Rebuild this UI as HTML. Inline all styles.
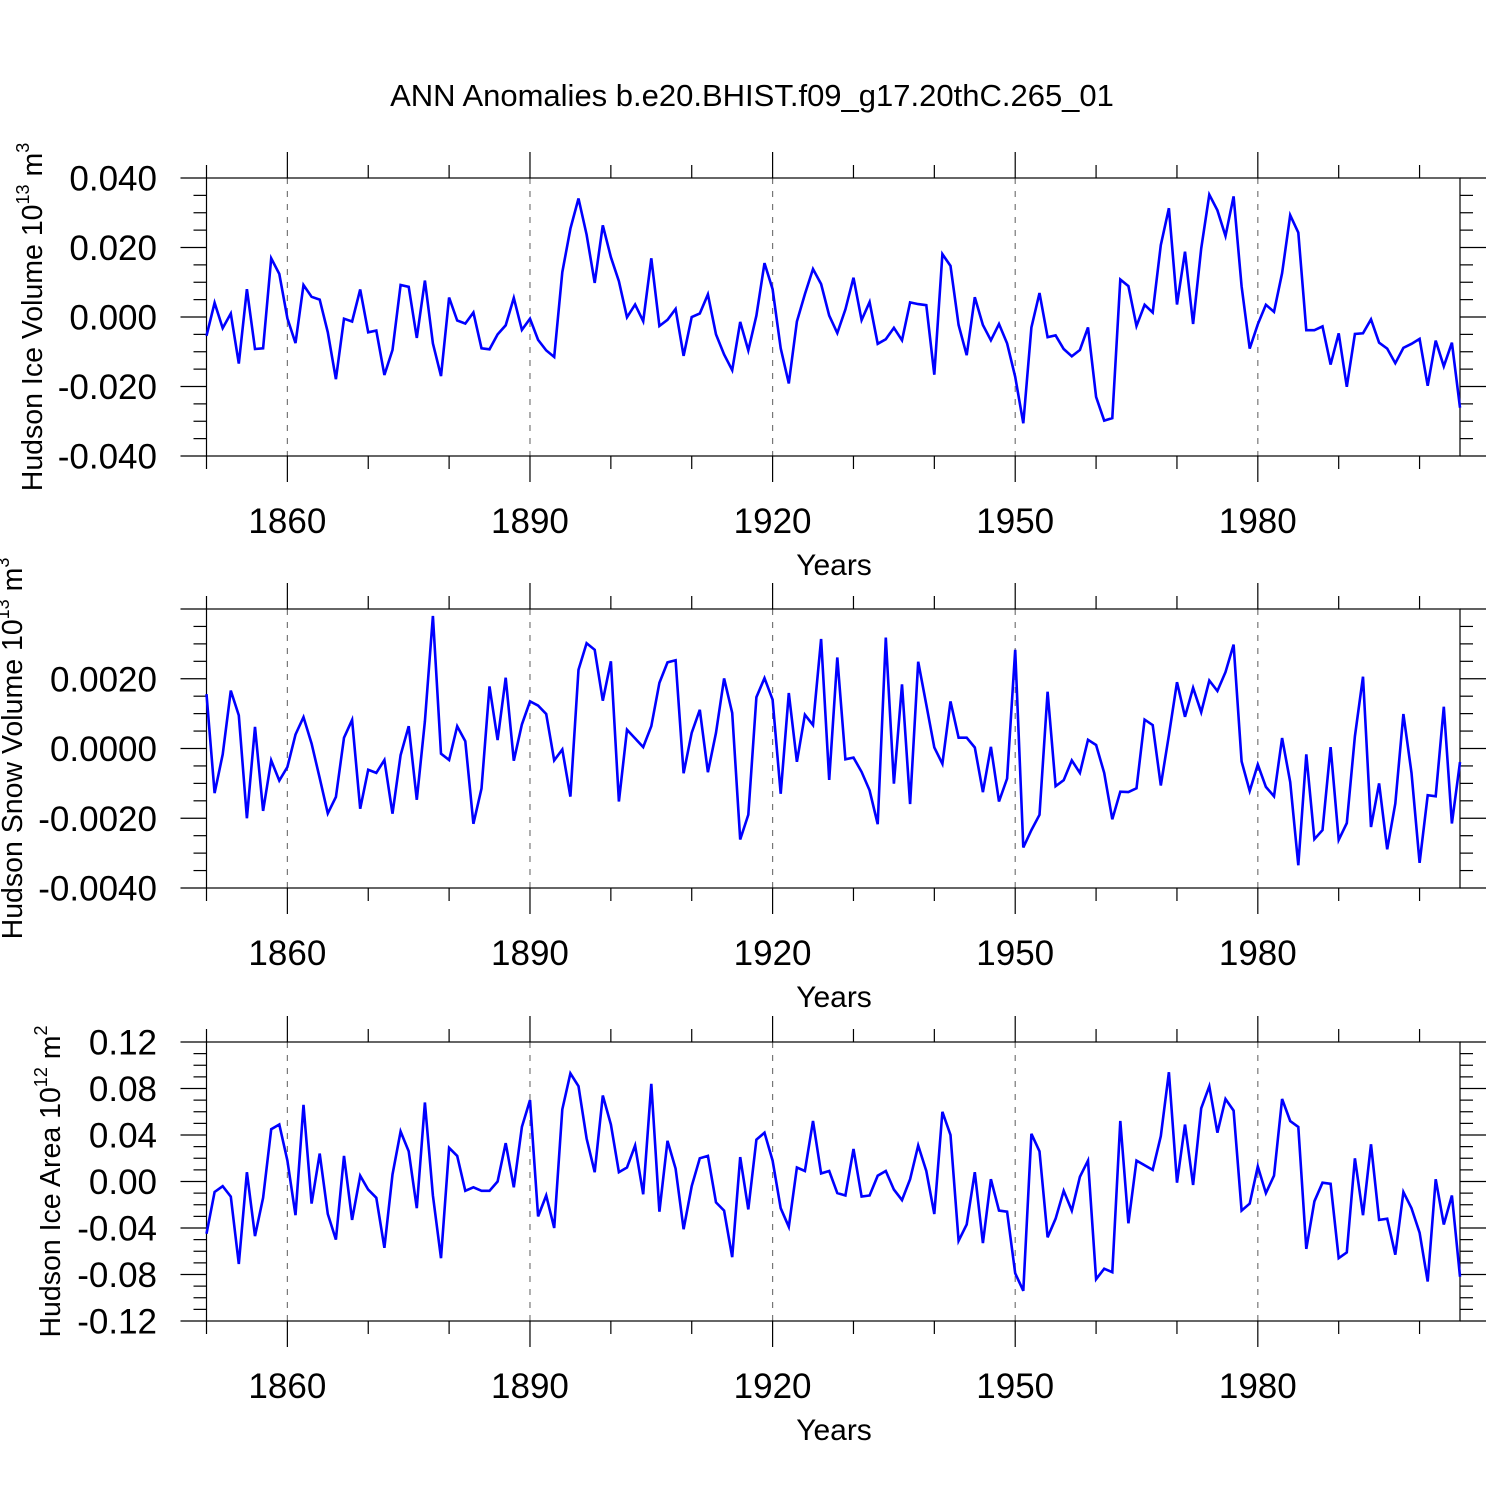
<!DOCTYPE html>
<html><head><meta charset="utf-8"><style>
html,body{margin:0;padding:0;background:#fff;}
svg{display:block;font-family:"Liberation Sans",sans-serif;}
</style></head><body>
<svg id="chart" width="1500" height="1500" viewBox="0 0 1500 1500" xmlns="http://www.w3.org/2000/svg">
<rect width="1500" height="1500" fill="#fff"/>
<text x="752" y="106" font-size="31" text-anchor="middle">ANN Anomalies b.e20.BHIST.f09_g17.20thC.265_01</text>
</svg>
<script>
const years = [];
for (let y = 1850; y <= 2005; y++) years.push(y);
const xTickYears = [1860, 1890, 1920, 1950, 1980];

const iceVolume = [-0.0054,0.0041,-0.0032,0.001,-0.0134,0.008,-0.0092,-0.009,0.0169,0.0124,-0.0004,-0.0075,0.0092,0.0058,0.005,-0.0044,-0.0179,-0.0005,-0.0013,0.0079,-0.0044,-0.0039,-0.0167,-0.0095,0.0092,0.0087,-0.006,0.0105,-0.0076,-0.017,0.0056,-0.001,-0.0019,0.0013,-0.009,-0.0093,-0.005,-0.0024,0.0055,-0.0037,-0.0005,-0.0066,-0.0096,-0.0115,0.0129,0.0254,0.0341,0.0237,0.0098,0.0264,0.0172,0.0103,-0.0001,0.0036,-0.0012,0.0169,-0.0026,-0.0008,0.0023,-0.0112,0,0.001,0.0065,-0.005,-0.0108,-0.0153,-0.0014,-0.0096,0.0004,0.0155,0.008,-0.009,-0.0191,-0.0013,0.0066,0.0138,0.0095,0.0004,-0.0046,0.0022,0.0113,-0.0009,0.0043,-0.0077,-0.0064,-0.0031,-0.0067,0.0042,0.0037,0.0034,-0.0166,0.0181,0.0147,-0.0023,-0.011,0.0057,-0.0023,-0.0067,-0.002,-0.0076,-0.0172,-0.0306,-0.003,0.0069,-0.0058,-0.0053,-0.0092,-0.0113,-0.0095,-0.003,-0.023,-0.0298,-0.0291,0.0108,0.0089,-0.0026,0.0035,0.0013,0.0207,0.0313,0.0036,0.0188,-0.002,0.0197,0.0352,0.0307,0.0233,0.0347,0.0088,-0.0091,-0.0021,0.0035,0.0015,0.0126,0.0293,0.0243,-0.0038,-0.0038,-0.0027,-0.0137,-0.0047,-0.0201,-0.0049,-0.0047,-0.0007,-0.0074,-0.0091,-0.0133,-0.0089,-0.0077,-0.0063,-0.0198,-0.0068,-0.0142,-0.0074,-0.0261];

const snowVolume1e4 = [15.6,-12.8,-1.7,16.6,9.5,-20,6.2,-17.9,-3.4,-9.2,-5.3,4,9,1.4,-8.5,-18.6,-13.9,3.1,8.2,-17.3,-6.1,-7,-3.3,-18.7,-1.9,6.4,-14.7,7.8,38,-1.5,-3.3,6.4,2.1,-21.6,-11.5,17.8,2.4,20.3,-3.5,6.9,13.5,12.3,9.9,-3.4,-0.3,-13.8,22.6,30.2,28.3,13.7,25,-15.2,5.4,2.9,0.4,6.4,18.8,24.7,25.3,-7.1,4.5,11.1,-6.8,4.5,20.1,10.2,-26.1,-19,14.7,20.2,14,-13,15.9,-3.8,9.7,6.7,31.4,-9,26.1,-3.1,-2.6,-6.7,-12,-21.7,31.8,-10.1,18.4,-15.9,24.9,12.6,0.3,-4.4,13.5,3.1,3.1,0.3,-12.5,0.5,-15.2,-8.6,28.3,-28.4,-23.4,-19,16.3,-10.8,-9.1,-3.4,-7,2.5,1,-7,-20.3,-12.4,-12.5,-11.4,8.3,6.7,-10.6,3.8,19,9.1,17.4,10.4,19.5,16.5,21.9,29.8,-3.7,-12.2,-4.6,-11,-13.7,3,-9.6,-33.5,-1.7,-26,-23.4,0.4,-26.2,-21.4,3.5,20.6,-22.5,-10,-28.9,-15.8,9.9,-7,-32.8,-13.4,-13.7,12,-21.5,-3.9];

const iceArea1e2 = [-4.5,-0.9,-0.4,-1.3,-7.1,0.8,-4.7,-1.4,4.5,4.9,1.8,-2.9,6.6,-1.9,2.4,-2.8,-5,2.2,-3.3,0.5,-0.7,-1.4,-5.7,0.6,4.3,2.6,-2.3,6.8,-1.2,-6.6,2.9,2.2,-0.8,-0.5,-0.8,-0.8,0,3.3,-0.5,4.7,7,-3,-1.2,-4,6.2,9.3,8.2,3.7,0.8,7.4,4.9,0.8,1.2,3.1,-1.1,8.4,-2.6,3.5,1.1,-4.1,-0.4,2,2.2,-1.8,-2.5,-6.5,2.1,-2.4,3.6,4.2,1.8,-2.3,-3.9,1.2,0.9,5.2,0.7,0.9,-1,-1.2,2.8,-1.3,-1.2,0.5,0.9,-0.7,-1.6,0.2,3.1,0.9,-2.8,6,4,-5.1,-3.7,0.8,-5.3,0.2,-2.5,-2.6,-7.9,-9.4,4.1,2.6,-4.8,-3.2,-0.8,-2.5,0.4,1.8,-8.4,-7.5,-7.8,5.2,-3.6,1.8,1.4,1,3.9,9.4,-0.1,4.9,-0.3,6.3,8.2,4.2,7.1,6.1,-2.5,-1.9,1.3,-1,0.5,7.1,5.2,4.7,-5.8,-1.7,-0.1,-0.2,-6.6,-6.1,2,-2.9,3.2,-3.3,-3.2,-6.3,-0.9,-2.3,-4.4,-8.6,0.2,-3.7,-1.2,-8.2];

const ticks1 = ["0.040","0.020","0.000","-0.020","-0.040"];
const ticks2 = ["0.0020","0.0000","-0.0020","-0.0040"];
const ticks3 = ["0.12","0.08","0.04","0.00","-0.04","-0.08","-0.12"];

const NS = "http://www.w3.org/2000/svg";
const svg = document.getElementById("chart");
const X0 = 206.5, X1 = 1460, YMIN = 1850, YMAX = 2005;
const xs = yr => X0 + (yr - YMIN) / (YMAX - YMIN) * (X1 - X0);

function mk(tag, attrs, parent) {
  const e = document.createElementNS(NS, tag);
  for (const k in attrs) e.setAttribute(k, attrs[k]);
  (parent || svg).appendChild(e);
  return e;
}

function panel(cfg) {
  const g = mk("g", {});
  
  
  const ys = v => cfg.bot - (v - cfg.vmin) / (cfg.vmax - cfg.vmin) * (cfg.bot - cfg.top);
  xTickYears.forEach(yr => {
    const l = mk("line", {x1: xs(yr), x2: xs(yr), y1: cfg.top, y2: cfg.bot, stroke: "#777", "stroke-width": 1.2, "stroke-dasharray": "6,7"}, g);
    
    
  });
  const fr = mk("rect", {x: X0, y: cfg.top, width: X1 - X0, height: cfg.bot - cfg.top, fill: "none", stroke: "#000", "stroke-width": 1.2}, g);
  
  
  for (let yr = 1850; yr <= 2000; yr += 10) {
    const major = xTickYears.includes(yr);
    const len = major ? 26 : 13;
    mk("line", {x1: xs(yr), x2: xs(yr), y1: cfg.top - len, y2: cfg.top, stroke: "#000", "stroke-width": 1.2}, g);
    mk("line", {x1: xs(yr), x2: xs(yr), y1: cfg.bot, y2: cfg.bot + len, stroke: "#000", "stroke-width": 1.2}, g);
  }
  xTickYears.forEach(yr => {
    const t = mk("text", {x: xs(yr), y: cfg.bot + 77, "font-size": 35, "text-anchor": "middle"}, g);
    
    
    t.textContent = yr;
  });
  const xt = mk("text", {x: 834, y: cfg.bot + 119, "font-size": 30, "text-anchor": "middle"}, g);
  
  
  xt.textContent = "Years";
  const nMinor = Math.round((cfg.vmax - cfg.vmin) / cfg.minor);
  for (let k = 0; k <= nMinor; k++) {
    const v = cfg.vmin + k * cfg.minor;
    const y = ys(v);
    const isMajor = Math.abs(Math.round((v - cfg.vmin) / cfg.major) * cfg.major - (v - cfg.vmin)) < cfg.minor / 10;
    const len = isMajor ? 26 : 13;
    mk("line", {x1: X0 - len, x2: X0, y1: y, y2: y, stroke: "#000", "stroke-width": 1.2}, g);
    mk("line", {x1: X1, x2: X1 + len, y1: y, y2: y, stroke: "#000", "stroke-width": 1.2}, g);
  }
  cfg.labels.forEach((lab, i) => {
    const v = cfg.labelStart - i * cfg.major;
    const t = mk("text", {x: 157, y: ys(v) + 12.5, "font-size": 35, "text-anchor": "end"}, g);
    
    
    t.textContent = lab;
  });
  const cy = (cfg.top + cfg.bot) / 2;
  const yt = mk("text", {x: cfg.titleX, y: cy, "font-size": 28.5, "text-anchor": "middle", transform: `rotate(-90 ${cfg.titleX} ${cy})`}, g);
  
  
  yt.innerHTML = cfg.title + ` 10<tspan font-size="18" dy="-13">${cfg.exp}</tspan><tspan dy="13"> m</tspan><tspan font-size="18" dy="-13">${cfg.unitExp}</tspan>`;
  const pts = cfg.data.map((v, i) => xs(years[i]).toFixed(1) + "," + ys(v * cfg.scale).toFixed(1)).join(" ");
  const pl = mk("polyline", {points: pts, fill: "none", stroke: "#0000ff", "stroke-width": 2.6, "stroke-linejoin": "miter"}, g);
  
  
}

panel({name: "ice-volume-panel", top: 178, bot: 456, vmin: -0.04, vmax: 0.04, major: 0.02, minor: 0.005, labels: ticks1, labelStart: 0.04, data: iceVolume, scale: 1, title: "Hudson Ice Volume", exp: "13", unitExp: "3", titleX: 42});
panel({name: "snow-volume-panel", top: 609, bot: 888, vmin: -0.004, vmax: 0.004, major: 0.002, minor: 0.0005, labels: ticks2, labelStart: 0.002, data: snowVolume1e4, scale: 0.0001, title: "Hudson Snow Volume", exp: "13", unitExp: "3", titleX: 22});
panel({name: "ice-area-panel", top: 1042, bot: 1321, vmin: -0.12, vmax: 0.12, major: 0.04, minor: 0.01, labels: ticks3, labelStart: 0.12, data: iceArea1e2, scale: 0.01, title: "Hudson Ice Area", exp: "12", unitExp: "2", titleX: 60});
</script>
</body></html>
